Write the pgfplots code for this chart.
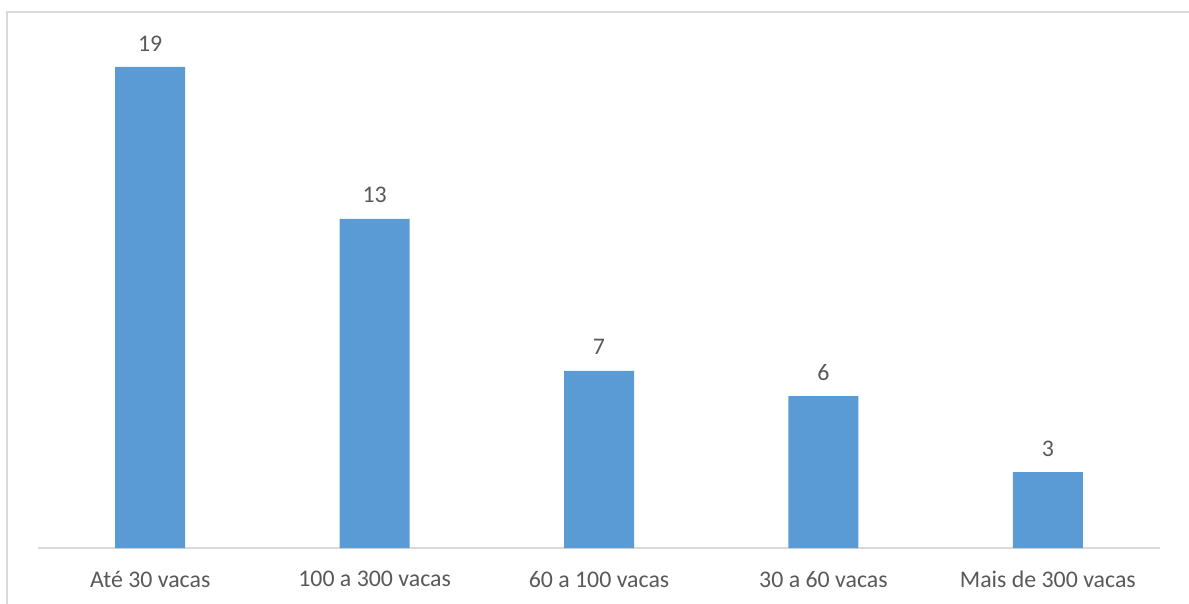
\documentclass[border=0pt]{standalone}
\usepackage{pgfplots}
\pgfplotsset{compat=1.18}
\usepackage{fontspec}
\setmainfont{Carlito}
\definecolor{barblue}{HTML}{5B9BD5}
\definecolor{axisgray}{HTML}{D9D9D9}
\definecolor{framegray}{HTML}{D9D9D9}
\definecolor{textgray}{HTML}{595959}
\begin{document}
\begin{tikzpicture}
% page extent and chart frame
\path[use as bounding box] (0pt,0pt) rectangle (713.4pt,361.8pt);
\draw[framegray, line width=1.2pt] (4.2pt,-10pt) -- (4.2pt,354.6pt) -- (720pt,354.6pt);
\begin{axis}[
  at={(22.8pt,33pt)}, anchor=south west,
  scale only axis,
  width=673.2pt, height=303.8pt,
  xmin=-0.5, xmax=4.5,
  ymin=0, ymax=20,
  axis x line*=bottom,
  axis y line=none,
  x axis line style={axisgray, line width=0.9pt, -},
  xtick=data,
  xticklabels={Até 30 vacas, 100 a 300 vacas, 60 a 100 vacas, 30 a 60 vacas, Mais de 300 vacas},
  major tick length=0pt,
  tick style={draw=none},
  xticklabel style={font=\fontsize{14.3}{16}\selectfont, text=textgray, yshift=-10.3pt},
  ybar,
  bar width=42pt,
  /pgf/number format/assume math mode=true,
  nodes near coords,
  every node near coord/.append style={font=\fontsize{14.3}{16}\selectfont, text=textgray, yshift=6pt},
  clip=false,
]
\addplot[fill=barblue, draw=none] coordinates {(0,19) (1,13) (2,7) (3,6) (4,3)};
\end{axis}
\end{tikzpicture}
\end{document}
